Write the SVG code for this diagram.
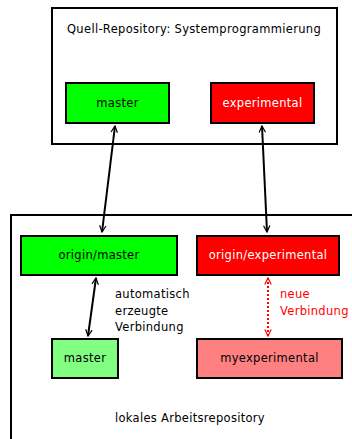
<svg xmlns="http://www.w3.org/2000/svg" width="352" height="439" viewBox="0 0 352 439">
<style>
.frame{fill:#fff;stroke:#000;stroke-width:2}
.box{stroke:#000;stroke-width:2}
.t{font-family:"DejaVu Sans",sans-serif;font-size:11.5px;letter-spacing:0.3px}
.c{text-anchor:middle}
.w{fill:#fff}
.k{fill:#000}
.line{stroke:#000;stroke-width:2;fill:none}
.red{stroke:#ff0000;stroke-width:2;fill:none;stroke-dasharray:2,2}
</style>
<defs>
<marker id="ah" viewBox="0 0 10 10" refX="9" refY="5" markerWidth="4" markerHeight="4" orient="auto-start-reverse" markerUnits="strokeWidth">
<polyline points="1,1 9,5 1,9" fill="none" stroke="#000" stroke-width="1.5"/>
</marker>
<marker id="ahr" viewBox="0 0 10 10" refX="9" refY="5" markerWidth="4" markerHeight="4" orient="auto-start-reverse" markerUnits="strokeWidth">
<polyline points="1,1 9,5 1,9" fill="none" stroke="#ff0000" stroke-width="1.5"/>
</marker>
</defs>
<rect width="352" height="439" fill="#fff"/>
<g id="quell">
<rect class="frame" x="52" y="8" width="285" height="136"/>
<text class="t k" x="67" y="33" textLength="254" lengthAdjust="spacing">Quell-Repository: Systemprogrammierung</text>
</g>
<g id="lokal">
<rect class="frame" x="11" y="215" width="350" height="240"/>
<text class="t k" x="115" y="422">lokales Arbeitsrepository</text>
</g>
<g id="q-master">
<rect class="box" x="66" y="83" width="103" height="40" fill="#00ff00"/>
<text class="t c k" x="117.5" y="107">master</text>
</g>
<g id="q-experimental">
<rect class="box" x="211" y="83" width="103" height="40" fill="#ff0000"/>
<text class="t c w" x="262.5" y="107">experimental</text>
</g>
<g id="origin-master">
<rect class="box" x="21" y="236" width="156" height="39" fill="#00ff00"/>
<text class="t c k" x="99" y="259">origin/master</text>
</g>
<g id="origin-experimental">
<rect class="box" x="197" y="236" width="142" height="39" fill="#ff0000"/>
<text class="t c w" x="268" y="259">origin/experimental</text>
</g>
<g id="l-master">
<rect class="box" x="52" y="339" width="66" height="39" fill="#80ff80"/>
<text class="t c k" x="85" y="362">master</text>
</g>
<g id="myexperimental">
<rect class="box" x="197" y="339" width="145" height="39" fill="#ff8080"/>
<text class="t c k" x="269.5" y="362">myexperimental</text>
</g>
<g id="connectors">
<line class="line" x1="115" y1="126" x2="102" y2="232" marker-start="url(#ah)" marker-end="url(#ah)"/>
<line class="line" x1="262" y1="126" x2="267" y2="232" marker-start="url(#ah)" marker-end="url(#ah)"/>
<line class="line" x1="96" y1="278" x2="88" y2="336" marker-start="url(#ah)" marker-end="url(#ah)"/>
<line class="red" x1="268" y1="278" x2="268" y2="336" marker-start="url(#ahr)" marker-end="url(#ahr)"/>
<text class="t k" x="115" y="298">automatisch</text>
<text class="t k" x="115" y="315">erzeugte</text>
<text class="t k" x="115" y="331">Verbindung</text>
<text class="t" fill="#ff0000" x="280" y="298">neue</text>
<text class="t" fill="#ff0000" x="280" y="315">Verbindung</text>
</g>
</svg>
